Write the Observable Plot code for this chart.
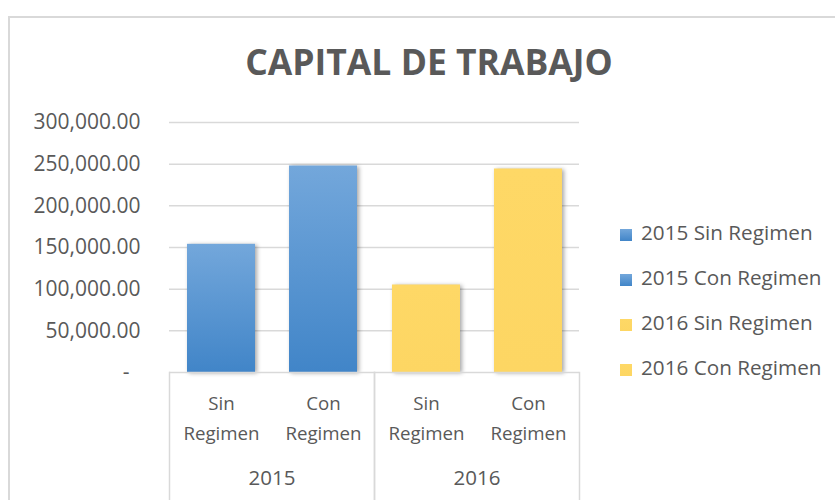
<!DOCTYPE html>
<html>
<head>
<meta charset="utf-8">
<script src="https://cdn.jsdelivr.net/npm/d3@7"></script>
<script src="https://cdn.jsdelivr.net/npm/@observablehq/plot@0.6"></script>
<style>
  html, body { margin: 0; padding: 0; background: #fff; }
  #wrap { position: relative; width: 835px; height: 500px; overflow: hidden; background: #fff; font-family: "Open Sans", sans-serif; color: #595959; }
  #border { position: absolute; left: 8px; top: 16px; width: 900px; height: 600px; border-left: 2px solid #d9d9d9; border-top: 2px solid #d9d9d9; }
  #title { position: absolute; left: 0; top: 37px; width: 858px; text-align: center; font-size: 35.5px; line-height: 48px; font-weight: 700; margin: 0; color: #595959; }
  #chart { position: absolute; left: 0; top: 0; }
  #legend { position: absolute; left: 0; top: 210px; width: 835px; }
  .row { position: relative; height: 45px; line-height: 45px; font-size: 20.7px; }
  .sw { position: absolute; left: 620px; top: 19px; width: 12px; height: 12px; }
  .lab { position: absolute; left: 641px; top: 0; white-space: nowrap; }
</style>
</head>
<body>
<div id="wrap">
  <div id="border"></div>
  <div id="chart"></div>
  <h2 id="title"></h2>
  <div id="legend"></div>
</div>
<script>
// ---- data ----
const title = "CAPITAL DE TRABAJO";
const years = ["2015", "2016"];
const types = ["Sin Regimen", "Con Regimen"];
const values2015 = [153800, 247800];
const values2016 = [105000, 244200];
const yTicks = [0, 50000, 100000, 150000, 200000, 250000, 300000];
const yearGradients = {
  "2015": ["#73a7db", "#4185c8"],
  "2016": ["#fed866", "#fdd663"]
};

const seriesValues = [values2015, values2016];
const data = years.flatMap((yr, i) => types.map((t, j) => ({year: yr, type: t, value: seriesValues[i][j]})));

document.getElementById("title").textContent = title;

const fmt = d3.format(",.2f");
const grid = "#d9d9d9";

const chart = Plot.plot({
  width: 835,
  height: 500,
  marginLeft: 169,
  marginRight: 256,
  marginTop: 122,
  marginBottom: 128,
  style: {fontFamily: "Open Sans, sans-serif", fontSize: "20px", color: "#595959", background: "transparent", overflow: "visible"},
  fx: {domain: years, padding: 0, label: null},
  x: {domain: types, paddingInner: 0.336, paddingOuter: 0.168, axis: null, label: null},
  y: {domain: [0, 300000], label: null},
  color: {type: "identity"},
  marks: [
    Plot.gridY(yTicks.filter(d => d > 0), {stroke: grid, strokeOpacity: 1, strokeWidth: 1.5}),
    Plot.axisY(yTicks, {tickSize: 0, tickPadding: 29, label: null, fontSize: 21,
      tickFormat: d => d === 0 ? "-\u00a0\u00a0" : fmt(d)}),
    Plot.barY(data, {fx: "year", x: "type", y: "value", fill: d => `url(#grad${d.year})`}),
    Plot.ruleY([0], {stroke: grid, strokeWidth: 1.5}),
    Plot.frame({anchor: "left", stroke: grid, strokeWidth: 1.5, insetTop: 250, insetBottom: -130}),
    Plot.frame({anchor: "right", stroke: grid, strokeWidth: 1.5, insetTop: 250, insetBottom: -130}),
    Plot.text(data, {fx: "year", x: "type", text: d => d.type.replace(" ", "\n"), frameAnchor: "bottom",
      lineAnchor: "top", dy: 17, lineHeight: 1.57, fontSize: 18.7, fill: "#595959"}),
    Plot.axisFx({anchor: "bottom", tickSize: 0, tickPadding: 98, label: null, fontSize: 20.5})
  ]
});

// gradients
const ns = "http://www.w3.org/2000/svg";
const defs = document.createElementNS(ns, "defs");
for (const yr of years) {
  const g = document.createElementNS(ns, "linearGradient");
  g.setAttribute("id", "grad" + yr);
  g.setAttribute("x1", "0"); g.setAttribute("y1", "0");
  g.setAttribute("x2", "0"); g.setAttribute("y2", "1");
  yearGradients[yr].forEach((c, k, arr) => {
    const s = document.createElementNS(ns, "stop");
    s.setAttribute("offset", k / (arr.length - 1));
    s.setAttribute("stop-color", c);
    g.appendChild(s);
  });
  defs.appendChild(g);
}
chart.insertBefore(defs, chart.firstChild);
chart.querySelectorAll('g[aria-label="bar"]').forEach(g => {
  g.style.filter = "drop-shadow(2px 1px 2px rgba(0,0,0,0.35))";
});
document.getElementById("chart").appendChild(chart);

// legend
const legend = document.getElementById("legend");
for (const yr of years) {
  for (const t of types) {
    const row = document.createElement("div");
    row.className = "row";
    const sw = document.createElement("div");
    sw.className = "sw";
    sw.style.background = `linear-gradient(${yearGradients[yr][0]}, ${yearGradients[yr][1]})`;
    const lab = document.createElement("div");
    lab.className = "lab";
    lab.textContent = `${yr} ${t}`;
    row.appendChild(sw); row.appendChild(lab);
    legend.appendChild(row);
  }
}
</script>
</body>
</html>
